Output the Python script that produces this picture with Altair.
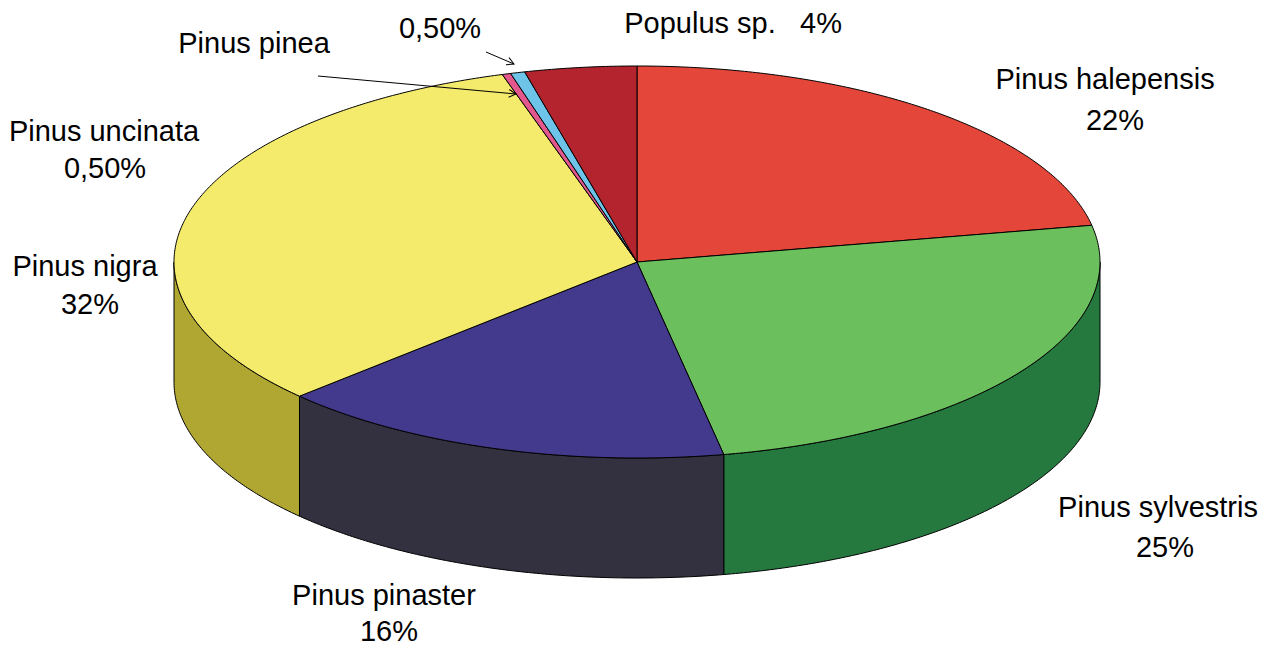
import math
import altair as alt
import pandas as pd

# ---- data ----
species = ["Pinus halepensis", "Pinus sylvestris", "Pinus pinaster", "Pinus nigra",
           "Pinus pinea", "Pinus uncinata", "Populus sp."]
shares = [22.0, 25.0, 16.0, 32.3, 0.3, 0.5, 3.9]
top_colors = ["#E4463A", "#6CBF5D", "#433A8E", "#F4EB6D", "#E3588C", "#6EC3E9", "#B3242E"]
side_colors = ["#A8302A", "#25793F", "#33303F", "#B0A632", "#A83F66", "#4F8FAB", "#841A22"]

label_texts = ["Populus sp.", "4%", "Pinus halepensis", "22%", "Pinus sylvestris", "25%",
               "Pinus pinaster", "16%", "Pinus nigra", "32%", "Pinus uncinata", "0,50%",
               "Pinus pinea", "0,50%"]

# ---- layout (page pixels: label centre x, baseline y) ----
label_x = [700, 821, 1105, 1115, 1158, 1165, 384, 389, 85, 90, 104, 105, 254, 440]
label_y = [33, 33, 89, 130, 517, 557, 605, 641, 276, 314, 141, 178, 53, 38]
arrows = [((318, 76), (516, 94)), ((486, 52), (514, 64))]

W, H = 1255, 638
CX, CY, RX, RY, DEPTH = 637, 262, 463, 196, 120


def proj(deg, dy=0.0):
    r = math.radians(deg)
    return CX + RX * math.sin(r), CY - RY * math.cos(r) + dy


def arc(a0, a1, dy=0.0):
    n = max(2, int(abs(a1 - a0) / 0.5) + 1)
    return [proj(a0 + (a1 - a0) * k / n, dy) for k in range(n + 1)]


total = sum(shares)
top_rows, side_rows = [], []
cum = 0.0
for i, (name, share) in enumerate(zip(species, shares)):
    a0 = cum / total * 360
    cum += share
    a1 = cum / total * 360
    pts = [(CX, CY)] + arc(a0, a1) + [(CX, CY)]
    for j, (x, y) in enumerate(pts):
        top_rows.append({"id": name, "x": x, "y": y, "o": j, "c": top_colors[i]})
    s, e = max(a0, 90.0), min(a1, 270.0)
    if e > s:
        up = arc(s, e)
        down = arc(e, s, DEPTH)
        spts = up + down + [up[0]]
        for j, (x, y) in enumerate(spts):
            side_rows.append({"id": name, "x": x, "y": y, "o": j, "c": side_colors[i]})

df_top = pd.DataFrame(top_rows)
df_side = pd.DataFrame(side_rows)
df_text = pd.DataFrame({"t": label_texts, "x": label_x, "y": label_y})

arrow_rows, head_rows = [], []
for k, ((x0, y0), (x1, y1)) in enumerate(arrows):
    arrow_rows.append({"x": x0, "y": y0, "x2": x1, "y2": y1})
    head_rows.append({"x": x1, "y": y1, "ang": (math.degrees(math.atan2(y1 - y0, x1 - x0)) + 360) % 360})
df_arrow = pd.DataFrame(arrow_rows)
df_head = pd.DataFrame(head_rows)

xs = alt.Scale(domain=[8, 8 + W], nice=False, zero=False)
ys = alt.Scale(domain=[8, 8 + H], nice=False, zero=False, reverse=True)
X = alt.X("x:Q", scale=xs, axis=None)
Y = alt.Y("y:Q", scale=ys, axis=None)

sides = alt.Chart(df_side).mark_line(stroke="black", strokeWidth=1, strokeJoin="round").encode(
    x=X, y=Y, fill=alt.Fill("c:N", scale=None), detail="id:N", order="o:Q")
tops = alt.Chart(df_top).mark_line(stroke="black", strokeWidth=1, strokeJoin="round").encode(
    x=X, y=Y, fill=alt.Fill("c:N", scale=None), detail="id:N", order="o:Q")
lines = alt.Chart(df_arrow).mark_rule(color="black", strokeWidth=1).encode(
    x=X, y=Y, x2="x2:Q", y2="y2:Q")
heads = alt.Chart(df_head).mark_point(
    shape="M -1 -0.55 L 0 0 L -1 0.55", filled=False, stroke="black", strokeWidth=1,
    size=200, opacity=1).encode(x=X, y=Y, angle=alt.Angle("ang:Q", scale=None))
texts = alt.Chart(df_text).mark_text(
    font="Liberation Sans", fontSize=29, color="black", align="center", baseline="alphabetic").encode(
    x=X, y=Y, text="t:N")

chart = alt.layer(sides, tops, lines, heads, texts).properties(
    width=W, height=H, padding=0, autosize=alt.AutoSizeParams(type="none")
).configure_view(stroke=None)

chart.save("out.html", embed_options={"renderer": "svg", "actions": False})
